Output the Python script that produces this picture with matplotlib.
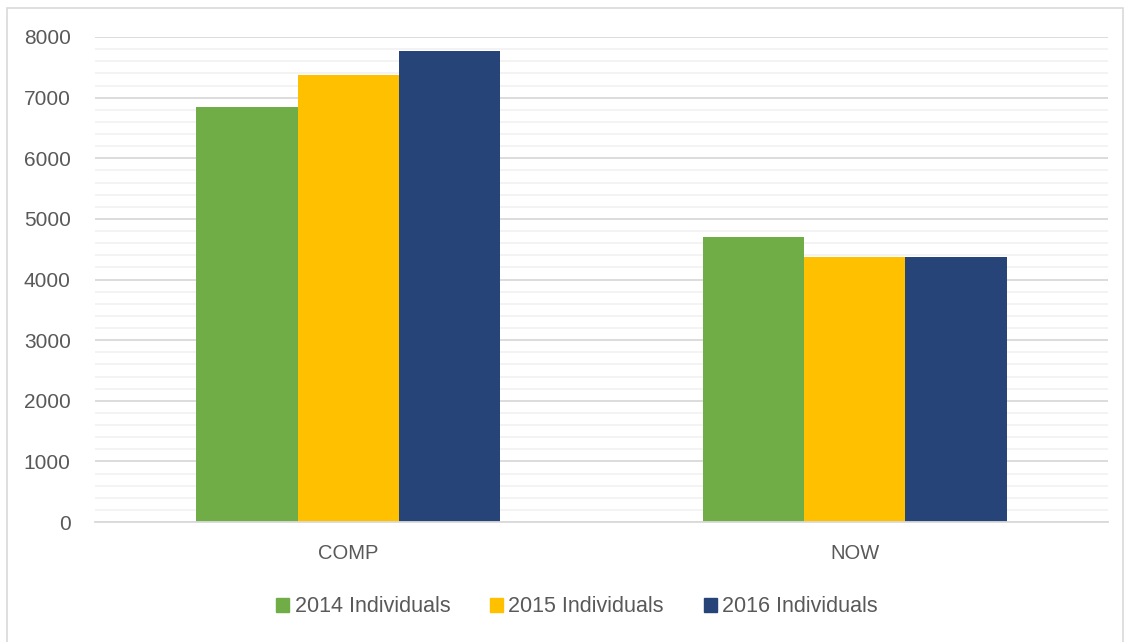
import numpy as np
import matplotlib.pyplot as plt
from matplotlib.patches import Rectangle, Patch

categories = ["COMP", "NOW"]
series_names = ["2014 Individuals", "2015 Individuals", "2016 Individuals"]
values_2014 = [6840, 4700]
values_2015 = [7370, 4370]
values_2016 = [7770, 4370]
colors = ["#70AD47", "#FFC000", "#264478"]

plt.rcParams['font.family'] = ['Liberation Sans', 'DejaVu Sans']

fig = plt.figure(figsize=(11.24, 6.42), dpi=100)
ax = fig.add_axes([95 / 1124, 1 - 522 / 642, (1108 - 95) / 1124, (522 - 37) / 642])

# outer chart frame
fig.patches.append(Rectangle((7 / 1124, -0.05), (1123 - 7) / 1124, 1.05 - 8 / 642,
                             transform=fig.transFigure, fill=False,
                             edgecolor="#d9d9d9", linewidth=1.2))

x = np.arange(len(categories))
width = 0.2
all_values = [values_2014, values_2015, values_2016]
for i, vals in enumerate(all_values):
    ax.bar(x + (i - 1) * width, vals, width, color=colors[i],
           label=series_names[i], zorder=3)

ax.set_xlim(-0.5, 1.5)
ax.set_ylim(0, 8000)
ax.set_yticks(np.arange(0, 8001, 1000))
ax.set_yticks(np.arange(0, 8001, 200), minor=True)
ax.set_xticks(x)
ax.set_xticklabels(categories)

ax.grid(axis='y', which='major', color="#d9d9d9", linewidth=1.3, zorder=1)
ax.grid(axis='y', which='minor', color="#f2f2f2", linewidth=1.3, zorder=0)
for side in ["top", "right", "left"]:
    ax.spines[side].set_visible(False)
ax.spines["bottom"].set_color("#d9d9d9")
ax.spines["bottom"].set_linewidth(1.3)
ax.spines["bottom"].set_zorder(4)

ax.tick_params(axis='y', which='both', length=0, pad=17.5, labelsize=15,
               labelcolor="#595959")
ax.tick_params(axis='x', which='both', length=0, pad=15.5, labelsize=14.5,
               labelcolor="#595959")

handles = [Patch(color=c) for c in colors]
fig.legend(handles, series_names, loc='center', ncol=3,
           bbox_to_anchor=(577 / 1124, 1 - 607 / 642), frameon=False,
           fontsize=15.5, labelcolor="#595959", handlelength=0.6,
           handleheight=0.6, handletextpad=0.25, columnspacing=1.85)

fig.savefig("out.png", dpi=100)
